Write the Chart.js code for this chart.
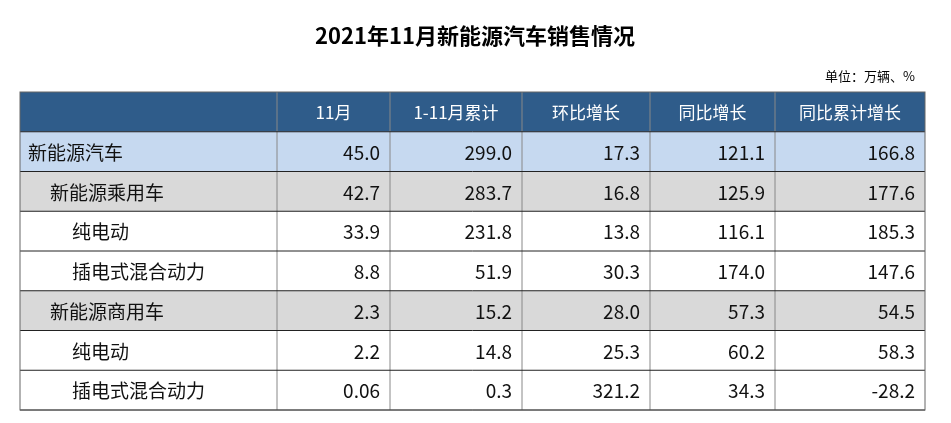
<!DOCTYPE html>
<html><head><meta charset="utf-8">
<script src="https://cdn.jsdelivr.net/npm/chart.js@4/dist/chart.umd.min.js"></script>
<style>body{margin:0;background:#fff}#wrap{width:951px;height:423px}</style>
</head><body><div id="wrap"><canvas id="c"></canvas></div>
<script>
const title = "2021年11月新能源汽车销售情况";
const unitLabel = "单位：万辆、%";
const headers = ["", "11月", "1-11月累计", "环比增长", "同比增长", "同比累计增长"];
const categories = ["新能源汽车", "新能源乘用车", "纯电动", "插电式混合动力", "新能源商用车", "纯电动", "插电式混合动力"];
const levels = [0, 1, 2, 2, 1, 2, 2];
const novSales = ["45.0", "42.7", "33.9", "8.8", "2.3", "2.2", "0.06"];
const ytdSales = ["299.0", "283.7", "231.8", "51.9", "15.2", "14.8", "0.3"];
const momGrowth = ["17.3", "16.8", "13.8", "30.3", "28.0", "25.3", "321.2"];
const yoyGrowth = ["121.1", "125.9", "116.1", "174.0", "57.3", "60.2", "34.3"];
const ytdYoyGrowth = ["166.8", "177.6", "185.3", "147.6", "54.5", "58.3", "-28.2"];

// column widths in x-scale units
const colWidths = [257, 113, 132, 128, 125, 150];
const colEdges = [0];
colWidths.forEach(w => colEdges.push(colEdges[colEdges.length - 1] + w));
const rowFills = ["#c6d9f0", "#d9d9d9", "#fff", "#fff", "#d9d9d9", "#fff", "#fff"];

const tablePlugin = {
  id: "table",
  afterDraw(chart) {
    const ctx = chart.ctx, xs = chart.scales.x, ys = chart.scales.y;
    const X = v => xs.getPixelForValue(v), Y = v => ys.getPixelForValue(v);
    const font = "Noto Sans CJK SC, sans-serif";
    ctx.save();
    ctx.fillStyle = "#000";
    ctx.font = "bold 22px " + font;
    ctx.textAlign = "center"; ctx.textBaseline = "middle";
    ctx.fillText(title, 475, 36);
    ctx.font = "13px " + font; ctx.textAlign = "right";
    ctx.fillText(unitLabel, 915, 76);

    // header
    ctx.fillStyle = "#2f5c8a";
    ctx.fillRect(X(0), Y(0), X(colEdges[6]) - X(0), Y(1) - Y(0));
    ctx.font = "17px " + font; ctx.fillStyle = "#fff"; ctx.textAlign = "center";
    headers.forEach((h, i) => { if (h) ctx.fillText(h, (X(colEdges[i]) + X(colEdges[i + 1])) / 2, (Y(0) + Y(1)) / 2 + 1); });

    const cols = [novSales, ytdSales, momGrowth, yoyGrowth, ytdYoyGrowth];
    categories.forEach((cat, r) => {
      const top = Y(r + 1), bot = Y(r + 2), mid = (top + bot) / 2 + 1;
      ctx.fillStyle = rowFills[r];
      ctx.fillRect(X(0), top, X(colEdges[6]) - X(0), bot - top);
      ctx.fillStyle = "#111"; ctx.font = "19px " + font;
      ctx.textAlign = "left";
      ctx.fillText(cat, X(0) + 8 + levels[r] * 22, mid);
      ctx.textAlign = "right";
      cols.forEach((c, i) => ctx.fillText(c[r], X(colEdges[i + 2]) - 10, mid));
    });

    // grid lines
    ctx.strokeStyle = "#888"; ctx.lineWidth = 1;
    for (let i = 1; i < 6; i++) {
      ctx.beginPath(); ctx.moveTo(X(colEdges[i]), Y(0)); ctx.lineTo(X(colEdges[i]), Y(8)); ctx.stroke();
    }
    ctx.strokeStyle = "#222";
    for (let r = 1; r <= 8; r++) {
      ctx.beginPath(); ctx.moveTo(X(0), Y(r)); ctx.lineTo(X(colEdges[6]), Y(r)); ctx.stroke();
    }
    ctx.strokeStyle = "#666";
    ctx.strokeRect(X(0), Y(0), X(colEdges[6]) - X(0), Y(8) - Y(0));
    ctx.restore();
  }
};

new Chart(document.getElementById("c"), {
  type: "bar",
  data: { labels: [], datasets: [] },
  plugins: [tablePlugin],
  options: {
    responsive: true, maintainAspectRatio: false, animation: false,
    layout: { padding: { left: 20, right: 26, top: 92, bottom: 13 } },
    plugins: { legend: { display: false }, tooltip: { enabled: false } },
    scales: {
      x: { type: "linear", display: false, offset: false, min: 0, max: colEdges[6] },
      y: { type: "linear", display: false, offset: false, min: 0, max: 8, reverse: true }
    }
  }
});
</script></body></html>
